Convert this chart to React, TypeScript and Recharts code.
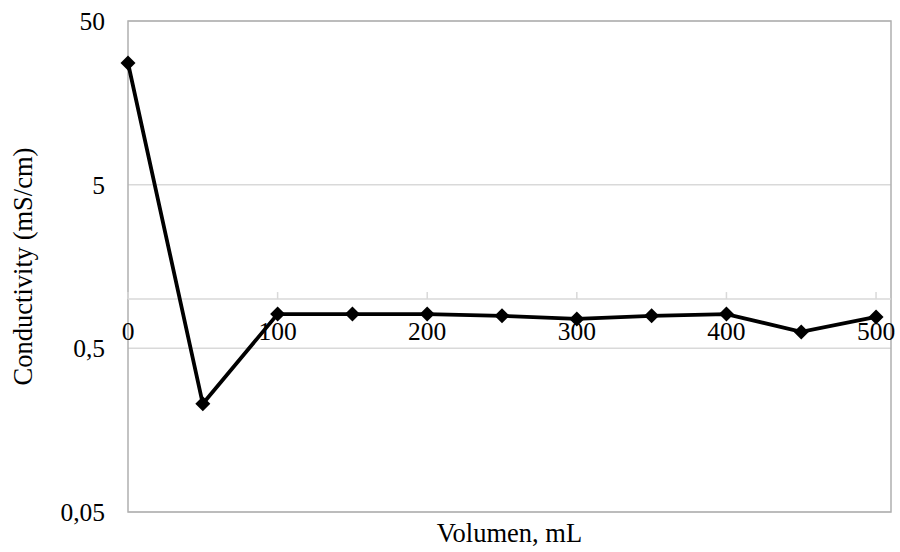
import {
  LineChart,
  Line,
  XAxis,
  YAxis,
  CartesianGrid,
  ReferenceLine,
  ReferenceArea,
} from 'recharts';

const volumes = [0, 50, 100, 150, 200, 250, 300, 350, 400, 450, 500];
const conductivity = [27.7, 0.229, 0.81, 0.81, 0.81, 0.79, 0.756, 0.79, 0.81, 0.63, 0.778];
const xTicks = [0, 100, 200, 300, 400, 500];
const yTicks = [0.05, 0.5, 5, 50];

const data = volumes.map((v, i) => ({ volume: v, value: conductivity[i] }));

const W = 900;
const H = 552;
const margin = { top: 21, right: 9, bottom: 0, left: 0 };
const Y_AXIS_W = 128;
const X_AXIS_H = 40;
const plotH = H - margin.top - margin.bottom - X_AXIS_H;
// the horizontal axis crosses at conductivity = 1
const crossY = margin.top + (plotH * Math.log10(50 / 1)) / Math.log10(50 / 0.05);

const FONT = '"Liberation Serif", "Times New Roman", serif';

const Diamond = (props: any) => {
  const { cx, cy } = props;
  if (cx == null || cy == null) return null;
  const r = 7.5;
  return (
    <polygon
      points={`${cx},${cy - r} ${cx + r},${cy} ${cx},${cy + r} ${cx - r},${cy}`}
      fill='#000'
    />
  );
};

const XTick = (props: any) => {
  const { x, payload } = props;
  return (
    <g>
      <line x1={x} x2={x} y1={crossY} y2={crossY - 7} stroke='#d9d9d9' strokeWidth={1.5} />
      <text x={x} y={crossY + 41} textAnchor='middle' fontSize={25.5} fill='#000' fontFamily={FONT}>
        {payload.value}
      </text>
    </g>
  );
};

const fmt = (v: number) => String(v).replace('.', ',');

export default function App() {
  return (
    <div style={{ width: W, height: H }}>
      <style>{`body{margin:0}`}</style>
      <LineChart width={W} height={H} data={data} margin={margin}>
        <CartesianGrid vertical={false} stroke='#d9d9d9' strokeWidth={1.5} />
        <ReferenceArea
          x1={0}
          x2={510}
          y1={0.05}
          y2={50}
          fill='none'
          stroke='#b0b0b0'
          strokeWidth={1.5}
          ifOverflow='visible'
        />
        <ReferenceLine y={1} stroke='#d9d9d9' strokeWidth={1.5} />
        <XAxis
          dataKey='volume'
          type='number'
          domain={[0, 510]}
          ticks={xTicks}
          height={X_AXIS_H}
          axisLine={false}
          tickLine={false}
          tick={<XTick />}
          interval={0}
          label={{
            value: 'Volumen, mL',
            position: 'insideBottom',
            offset: 10,
            fill: '#000',
            fontSize: 26.5,
            fontFamily: FONT,
          }}
        />
        <YAxis
          scale='log'
          domain={[0.05, 50]}
          ticks={yTicks}
          width={Y_AXIS_W}
          allowDataOverflow
          axisLine={false}
          tickLine={false}
          tickSize={6}
          tickMargin={17}
          tickFormatter={fmt}
          tick={{ fill: '#000', fontSize: 25.5, fontFamily: FONT }}
          label={{
            value: 'Conductivity (mS/cm)',
            angle: -90,
            position: 'insideLeft',
            offset: 23,
            style: { textAnchor: 'middle' },
            fill: '#000',
            fontSize: 26.5,
            fontFamily: FONT,
          }}
        />
        <Line
          dataKey='value'
          stroke='#000'
          strokeWidth={3.8}
          dot={<Diamond />}
          activeDot={false}
          isAnimationActive={false}
        />
      </LineChart>
    </div>
  );
}
